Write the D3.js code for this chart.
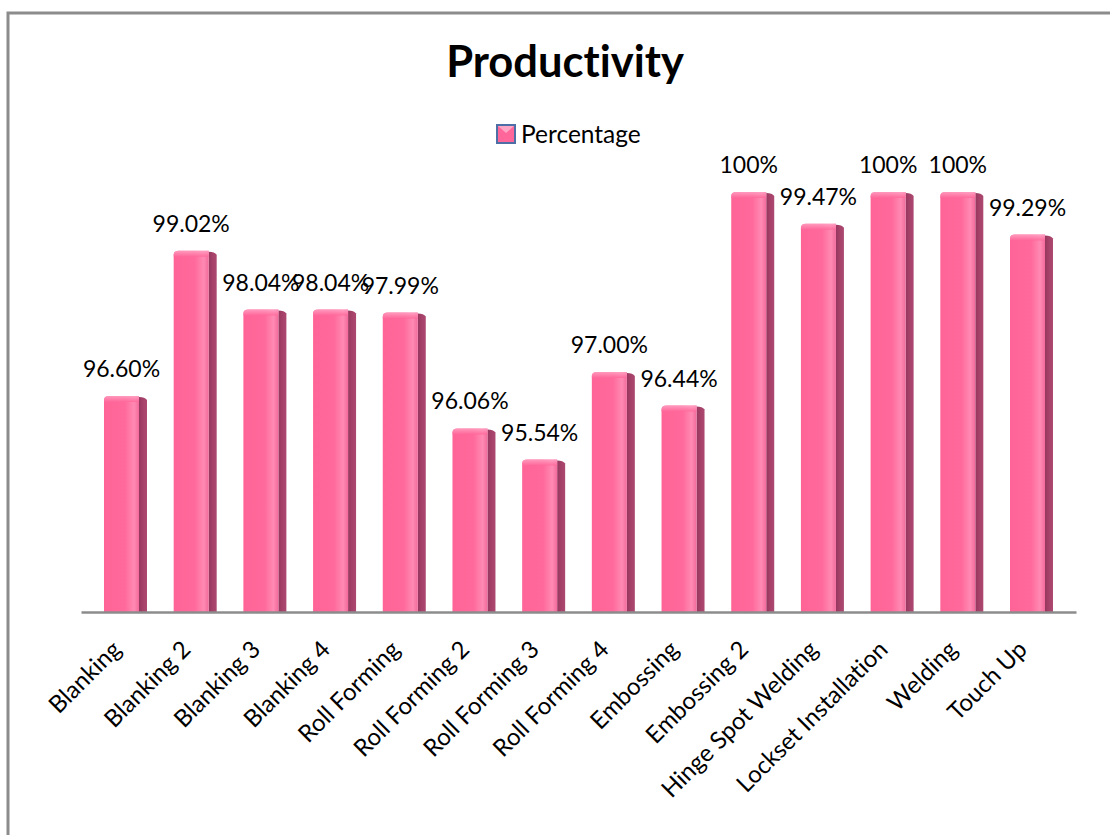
<!DOCTYPE html>
<html>
<head>
<meta charset="utf-8">
<script src="https://cdn.jsdelivr.net/npm/d3@7"></script>
<style>
  html, body { margin: 0; padding: 0; background: #fff; }
  svg { display: block; }
  text { font-family: Lato, "Open Sans", sans-serif; fill: #000; font-variant-ligatures: none; }
</style>
</head>
<body>
<svg id="chart" width="1110" height="835"></svg>
<script>
// Productivity by production step
const categories = [
  "Blanking", "Blanking 2", "Blanking 3", "Blanking 4", "Roll Forming",
  "Roll Forming 2", "Roll Forming 3", "Roll Forming 4", "Embossing",
  "Embossing 2", "Hinge Spot Welding", "Lockset Installation", "Welding", "Touch Up"
];
const percentage = [96.60, 99.02, 98.04, 98.04, 97.99, 96.06, 95.54, 97.00, 96.44, 100, 99.47, 100, 100, 99.29];
const yDomain = [93, 100];
const seriesName = "Percentage";
const titleText = "Productivity";

const fmt = v => (v === 100 ? "100%" : v.toFixed(2) + "%");

const svg = d3.select("#chart");
const W = 1110, H = 835;

// Frame (top and left edges of the chart area)
svg.append("path")
  .attr("d", `M8,${H} L8,13 L${W},13`)
  .attr("fill", "none")
  .attr("stroke", "#8c8c8c")
  .attr("stroke-width", 3);

const defs = svg.append("defs");
const faceGrad = defs.append("linearGradient").attr("id", "face").attr("x1", 0).attr("x2", 1).attr("y1", 0).attr("y2", 0);
[[0, "#ff6497"], [0.6, "#ff699b"], [0.86, "#ff8ab3"], [1, "#f26a9b"]]
  .forEach(([o, c]) => faceGrad.append("stop").attr("offset", o).attr("stop-color", c));
const sideGrad = defs.append("linearGradient").attr("id", "side").attr("x1", 0).attr("x2", 1).attr("y1", 0).attr("y2", 0);
[[0, "#96365e"], [0.5, "#a6426a"], [1, "#ad4870"]]
  .forEach(([o, c]) => sideGrad.append("stop").attr("offset", o).attr("stop-color", c));
const capGrad = defs.append("linearGradient").attr("id", "cap").attr("x1", 0).attr("x2", 0).attr("y1", 0).attr("y2", 1);
[[0, "#ffa6c6"], [1, "#ff6699"]]
  .forEach(([o, c]) => capGrad.append("stop").attr("offset", o).attr("stop-color", c));

const x = d3.scaleBand()
  .domain(categories)
  .range([81, 1076])
  .paddingInner(0.383)
  .paddingOuter(0.33);

const y = d3.scaleLinear().domain(yDomain).range([612, 192]);

const bw = x.bandwidth();
const faceW = Math.round(bw * 0.81);
const sideW = bw - faceW;

const data = categories.map((c, i) => ({ c, v: percentage[i] }));

const bars = svg.append("g").selectAll("g").data(data).join("g")
  .attr("transform", d => `translate(${x(d.c)},0)`);

// right-hand side face
bars.append("path")
  .attr("d", d => {
    const t = y(d.v), b = y(yDomain[0]);
    return `M${faceW},${t + 1} Q${faceW + sideW - 2},${t + 1} ${faceW + sideW},${t + 4} L${faceW + sideW},${b} L${faceW},${b} Z`;
  })
  .attr("fill", "url(#side)");

// front face with rounded top edge
bars.append("path")
  .attr("d", d => {
    const t = y(d.v), b = y(yDomain[0]);
    return `M0,${b} L0,${t + 4} Q0,${t} 5,${t} L${faceW},${t} L${faceW},${b} Z`;
  })
  .attr("fill", "url(#face)");

// highlight along the top edge
bars.append("path")
  .attr("d", d => {
    const t = y(d.v);
    return `M0,${t + 6} L0,${t + 4} Q0,${t} 5,${t} L${faceW},${t} L${faceW},${t + 6} Z`;
  })
  .attr("fill", "url(#cap)")
  .attr("opacity", 0.8);

// value labels
bars.append("text")
  .attr("x", faceW / 2)
  .attr("y", d => y(d.v) - 19)
  .attr("text-anchor", "middle")
  .attr("font-size", 23)
  .text(d => fmt(d.v));

// category axis
const axis = svg.append("g").attr("transform", `translate(0,${y(yDomain[0])})`)
  .call(d3.axisBottom(x).tickSize(0).tickFormat(""));
axis.select(".domain").attr("stroke", "#8c8c8c").attr("stroke-width", 2.5);

svg.append("g").selectAll("text").data(categories).join("text")
  .attr("transform", c => `translate(${x(c) + faceW / 2 + 1},651) rotate(-45)`)
  .attr("text-anchor", "end")
  .attr("font-size", 24)
  .text(c => c);

// title
svg.append("text")
  .attr("x", 565)
  .attr("y", 77)
  .attr("text-anchor", "middle")
  .attr("font-size", 43.5)
  .attr("font-weight", "bold")
  .text(titleText);

// legend
const lg = svg.append("g").attr("transform", "translate(497,125)");
lg.append("rect").attr("width", 18).attr("height", 18)
  .attr("fill", "#ff6699").attr("stroke", "#4d6fa6").attr("stroke-width", 2);
lg.append("path").attr("d", "M1,1 L17,1 L9,8 Z").attr("fill", "#ffa6c6");
lg.append("text").attr("x", 24).attr("y", 18).attr("font-size", 24.5).text(seriesName);
</script>
</body>
</html>
